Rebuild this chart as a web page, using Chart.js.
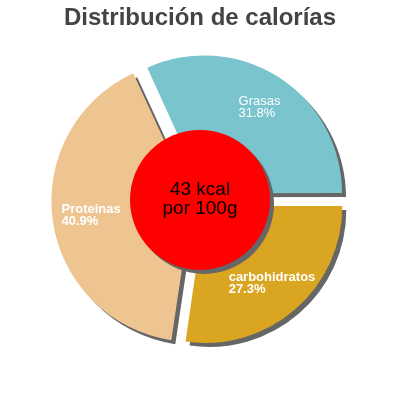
<!DOCTYPE html>
<html>
<head>
<meta charset="utf-8">
<script src="https://cdn.jsdelivr.net/npm/chart.js@4.4.0/dist/chart.umd.min.js"></script>
<style>
  html, body { margin: 0; padding: 0; background: #fff; }
</style>
</head>
<body>
<canvas id="kcal-chart" width="400" height="400"></canvas>
<script>
// chart data
const labels = ['Grasas', 'carbohidratos', 'Proteinas'];
const percents = [31.8, 27.3, 40.9];
const colors = ['#7ac5cd', '#daa520', '#eec591'];
const labelBold = [false, true, true];
const centerLines = ['43 kcal', 'por 100g'];
const titleText = 'Distribución de calorías';

const FONT = "'Liberation Sans', Arial, sans-serif";
const SLICE_OFFSET = 32; // chart.js moves each arc by offset / 4

function setShadow(chart) {
    const ctx = chart.ctx;
    const dpr = chart.currentDevicePixelRatio || 1;
    ctx.shadowColor = '#666666';
    ctx.shadowBlur = 0;
    ctx.shadowOffsetX = 4 * dpr;
    ctx.shadowOffsetY = 4 * dpr;
}

const pieExtras = {
    id: 'pieExtras',
    beforeDatasetsDraw(chart) {
        chart.ctx.save();
        setShadow(chart);
    },
    afterDatasetsDraw(chart) {
        const ctx = chart.ctx;
        ctx.restore();

        const arcs = chart.getDatasetMeta(0).data;
        const cx = arcs[0].x;
        const cy = arcs[0].y;
        const r = arcs[0].outerRadius;

        // red disc in the middle
        ctx.save();
        setShadow(chart);
        ctx.beginPath();
        ctx.arc(cx, cy, 70, 0, Math.PI * 2);
        ctx.fillStyle = '#ff0000';
        ctx.fill();
        ctx.restore();

        ctx.save();
        ctx.fillStyle = '#000';
        ctx.font = '19px ' + FONT;
        ctx.textAlign = 'center';
        ctx.textBaseline = 'middle';
        ctx.fillText(centerLines[0], cx, cy - 10);
        ctx.fillText(centerLines[1], cx, cy + 9);

        // slice labels
        ctx.textAlign = 'left';
        ctx.fillStyle = '#fff';
        arcs.forEach((arc, i) => {
            const mid = (arc.startAngle + arc.endAngle) / 2;
            const rr = 102 + SLICE_OFFSET / 4;
            const x = cx + Math.cos(mid) * rr;
            const y = cy + Math.sin(mid) * rr;
            ctx.font = (labelBold[i] ? 'bold ' : '') + '13px ' + FONT;
            const line2 = percents[i].toFixed(1) + '%';
            const w = Math.max(ctx.measureText(labels[i]).width, ctx.measureText(line2).width);
            ctx.fillText(labels[i], x - w / 2, y - 6);
            ctx.fillText(line2, x - w / 2, y + 6);
        });
        ctx.restore();
    }
};

new Chart(document.getElementById('kcal-chart'), {
    type: 'pie',
    data: {
        labels: labels,
        datasets: [{
            data: percents,
            backgroundColor: colors,
            borderWidth: 0,
            offset: SLICE_OFFSET
        }]
    },
    options: {
        responsive: false,
        animation: false,
        events: [],
        rotation: -24.5,
        layout: {
            padding: { left: 47, right: 47, top: 0, bottom: 47 }
        },
        plugins: {
            legend: { display: false },
            tooltip: { enabled: false },
            title: {
                display: true,
                text: titleText,
                color: '#444444',
                font: { family: FONT, size: 24, weight: 'bold' },
                padding: { top: 4, bottom: 14 }
            }
        }
    },
    plugins: [pieExtras]
});
</script>
</body>
</html>
